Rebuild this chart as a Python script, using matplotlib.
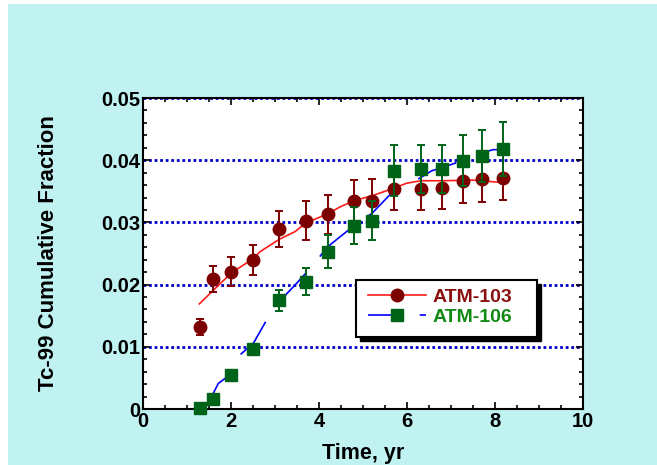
import matplotlib.pyplot as plt
from matplotlib.lines import Line2D
from matplotlib.patches import Rectangle
from matplotlib.ticker import MultipleLocator, FuncFormatter

plt.rcParams['font.family'] = ['Liberation Sans', 'DejaVu Sans']
plt.rcParams['font.weight'] = 'bold'

# measured points (time in yr)
t = [1.30, 1.60, 2.01, 2.51, 3.10, 3.70, 4.20, 4.80, 5.21, 5.70, 6.31, 6.80, 7.28, 7.71, 8.19]
atm103 = [0.0132, 0.0209, 0.0221, 0.0240, 0.0289, 0.0303, 0.0313, 0.0334, 0.0335,
          0.0354, 0.0354, 0.0356, 0.0367, 0.0370, 0.0372]
atm103_err = [0.0013, 0.0021, 0.0023, 0.0024, 0.0029, 0.0031, 0.0031, 0.0035, 0.0035,
              0.0034, 0.0034, 0.0034, 0.0036, 0.0037, 0.0036]
atm106 = [0.0002, 0.0016, 0.0055, 0.0096, 0.0175, 0.0205, 0.0253, 0.0295, 0.0303,
          0.0383, 0.0386, 0.0386, 0.0399, 0.0407, 0.0418]
atm106_err = [0.0004, 0.0004, 0.0004, 0.0004, 0.0017, 0.0021, 0.0026, 0.0029, 0.0031,
              0.0041, 0.0039, 0.0039, 0.0041, 0.0042, 0.0044]

# model curves
fit103_t = [1.28, 1.60, 2.01, 2.51, 2.66, 3.10, 3.45, 3.70, 4.20, 4.48, 4.80, 5.21,
            5.70, 5.99, 6.31, 6.80, 7.51, 8.19]
fit103 = [0.0169, 0.0191, 0.0219, 0.0242, 0.0253, 0.0273, 0.0285, 0.0299, 0.0314, 0.0325,
          0.0335, 0.0343, 0.0355, 0.0363, 0.0367, 0.0367, 0.0368, 0.0364]
fit106_t = [1.45, 1.71, 1.86, 2.01, 2.22, 2.51, 2.80, 3.10, 3.45, 3.81, 4.20, 4.48,
            4.80, 5.21, 5.70, 6.17, 6.56, 6.80, 7.28, 7.71, 7.96, 8.19]
fit106 = [0.0005, 0.0041, 0.0049, 0.0055, 0.0088, 0.0106, 0.0142, 0.0173, 0.0199, 0.0227,
          0.0261, 0.0277, 0.0295, 0.0315, 0.0351, 0.0366, 0.0383, 0.0388, 0.0400, 0.0412,
          0.0417, 0.0417]

red_dark = '#7d0000'
green_dark = '#006418'

fig = plt.figure(figsize=(6.57, 4.65), dpi=100, facecolor='white')
fig.patches.append(Rectangle((8 / 657, 0), 1 - 8 / 657, 461 / 465, transform=fig.transFigure,
                             facecolor='#c0f2f2', edgecolor='none', zorder=-10))
ax = fig.add_axes([0.2177, 0.1204, 0.6697, 0.6688])

ax.plot(fit103_t, fit103, color='#ff1a1a', lw=1.2, zorder=3)
ax.plot(fit106_t, fit106, color='#0000ff', lw=1.2, linestyle=(0, (25, 13)), zorder=3)

ax.errorbar(t, atm103, yerr=atm103_err, fmt='o', color=red_dark, ms=9, capsize=3,
            elinewidth=1.4, capthick=1.4, zorder=4, clip_on=False)
ax.errorbar(t, atm106, yerr=atm106_err, fmt='s', color=green_dark, ms=8.5, capsize=3,
            elinewidth=1.4, capthick=1.4, zorder=5, clip_on=False)

ax.set_xlim(0, 10)
ax.set_ylim(0, 0.05)
ax.xaxis.set_major_locator(MultipleLocator(2))
ax.xaxis.set_minor_locator(MultipleLocator(0.5))
ax.yaxis.set_major_locator(MultipleLocator(0.01))
ax.yaxis.set_minor_locator(MultipleLocator(0.002))
ax.yaxis.set_major_formatter(FuncFormatter(lambda v, p: '0' if abs(v) < 1e-9 else f'{v:.2f}'))
ax.tick_params(which='both', direction='in', top=True, right=True, width=1.2, labelsize=14.5, pad=2)
ax.tick_params(which='major', length=5)
ax.tick_params(which='minor', length=3)
for s in ax.spines.values():
    s.set_linewidth(1.5)

ax.yaxis.grid(True, color='#0000cc', linestyle=(0, (1, 1)), lw=2)
ax.set_axisbelow(True)

ax.set_xlabel('Time, yr', fontsize=15.5, fontweight='bold', labelpad=9)
ax.set_ylabel('Tc-99 Cumulative Fraction', fontsize=16, fontweight='bold')
ax.yaxis.set_label_coords(-0.19, 0.5)

# legend box with hard black shadow
box_x0, box_y0, box_w, box_h = 0.484, 0.2315, 0.411, 0.183
ax.add_patch(Rectangle((box_x0 + 0.009, box_y0 - 0.013), box_w, box_h, transform=ax.transAxes,
                       facecolor='black', edgecolor='black', zorder=8))
ax.add_patch(Rectangle((box_x0, box_y0), box_w, box_h, transform=ax.transAxes,
                       facecolor='white', edgecolor='black', lw=1.5, zorder=9))

handles = [
    Line2D([0], [0], color='#ff1a1a', lw=1.2, marker='o', ms=9, mfc=red_dark, mec=red_dark),
    Line2D([0], [0], color='#0000ff', lw=1.2, linestyle=(7, (25, 13)), marker='s', ms=8.5,
           mfc=green_dark, mec=green_dark),
]
leg = ax.legend(handles, ['ATM-103', 'ATM-106'], loc='upper left',
                bbox_to_anchor=((368 - 143) / 440, 0.388),
                prop={'size': 14, 'weight': 'bold'}, labelcolor=['#8b0f0f', '#128a12'],
                frameon=False, handlelength=3.0, handletextpad=0.3,
                borderpad=0, borderaxespad=0, labelspacing=0.12)
leg.set_zorder(10)

fig.savefig('out.png', dpi=100, facecolor=fig.get_facecolor())
